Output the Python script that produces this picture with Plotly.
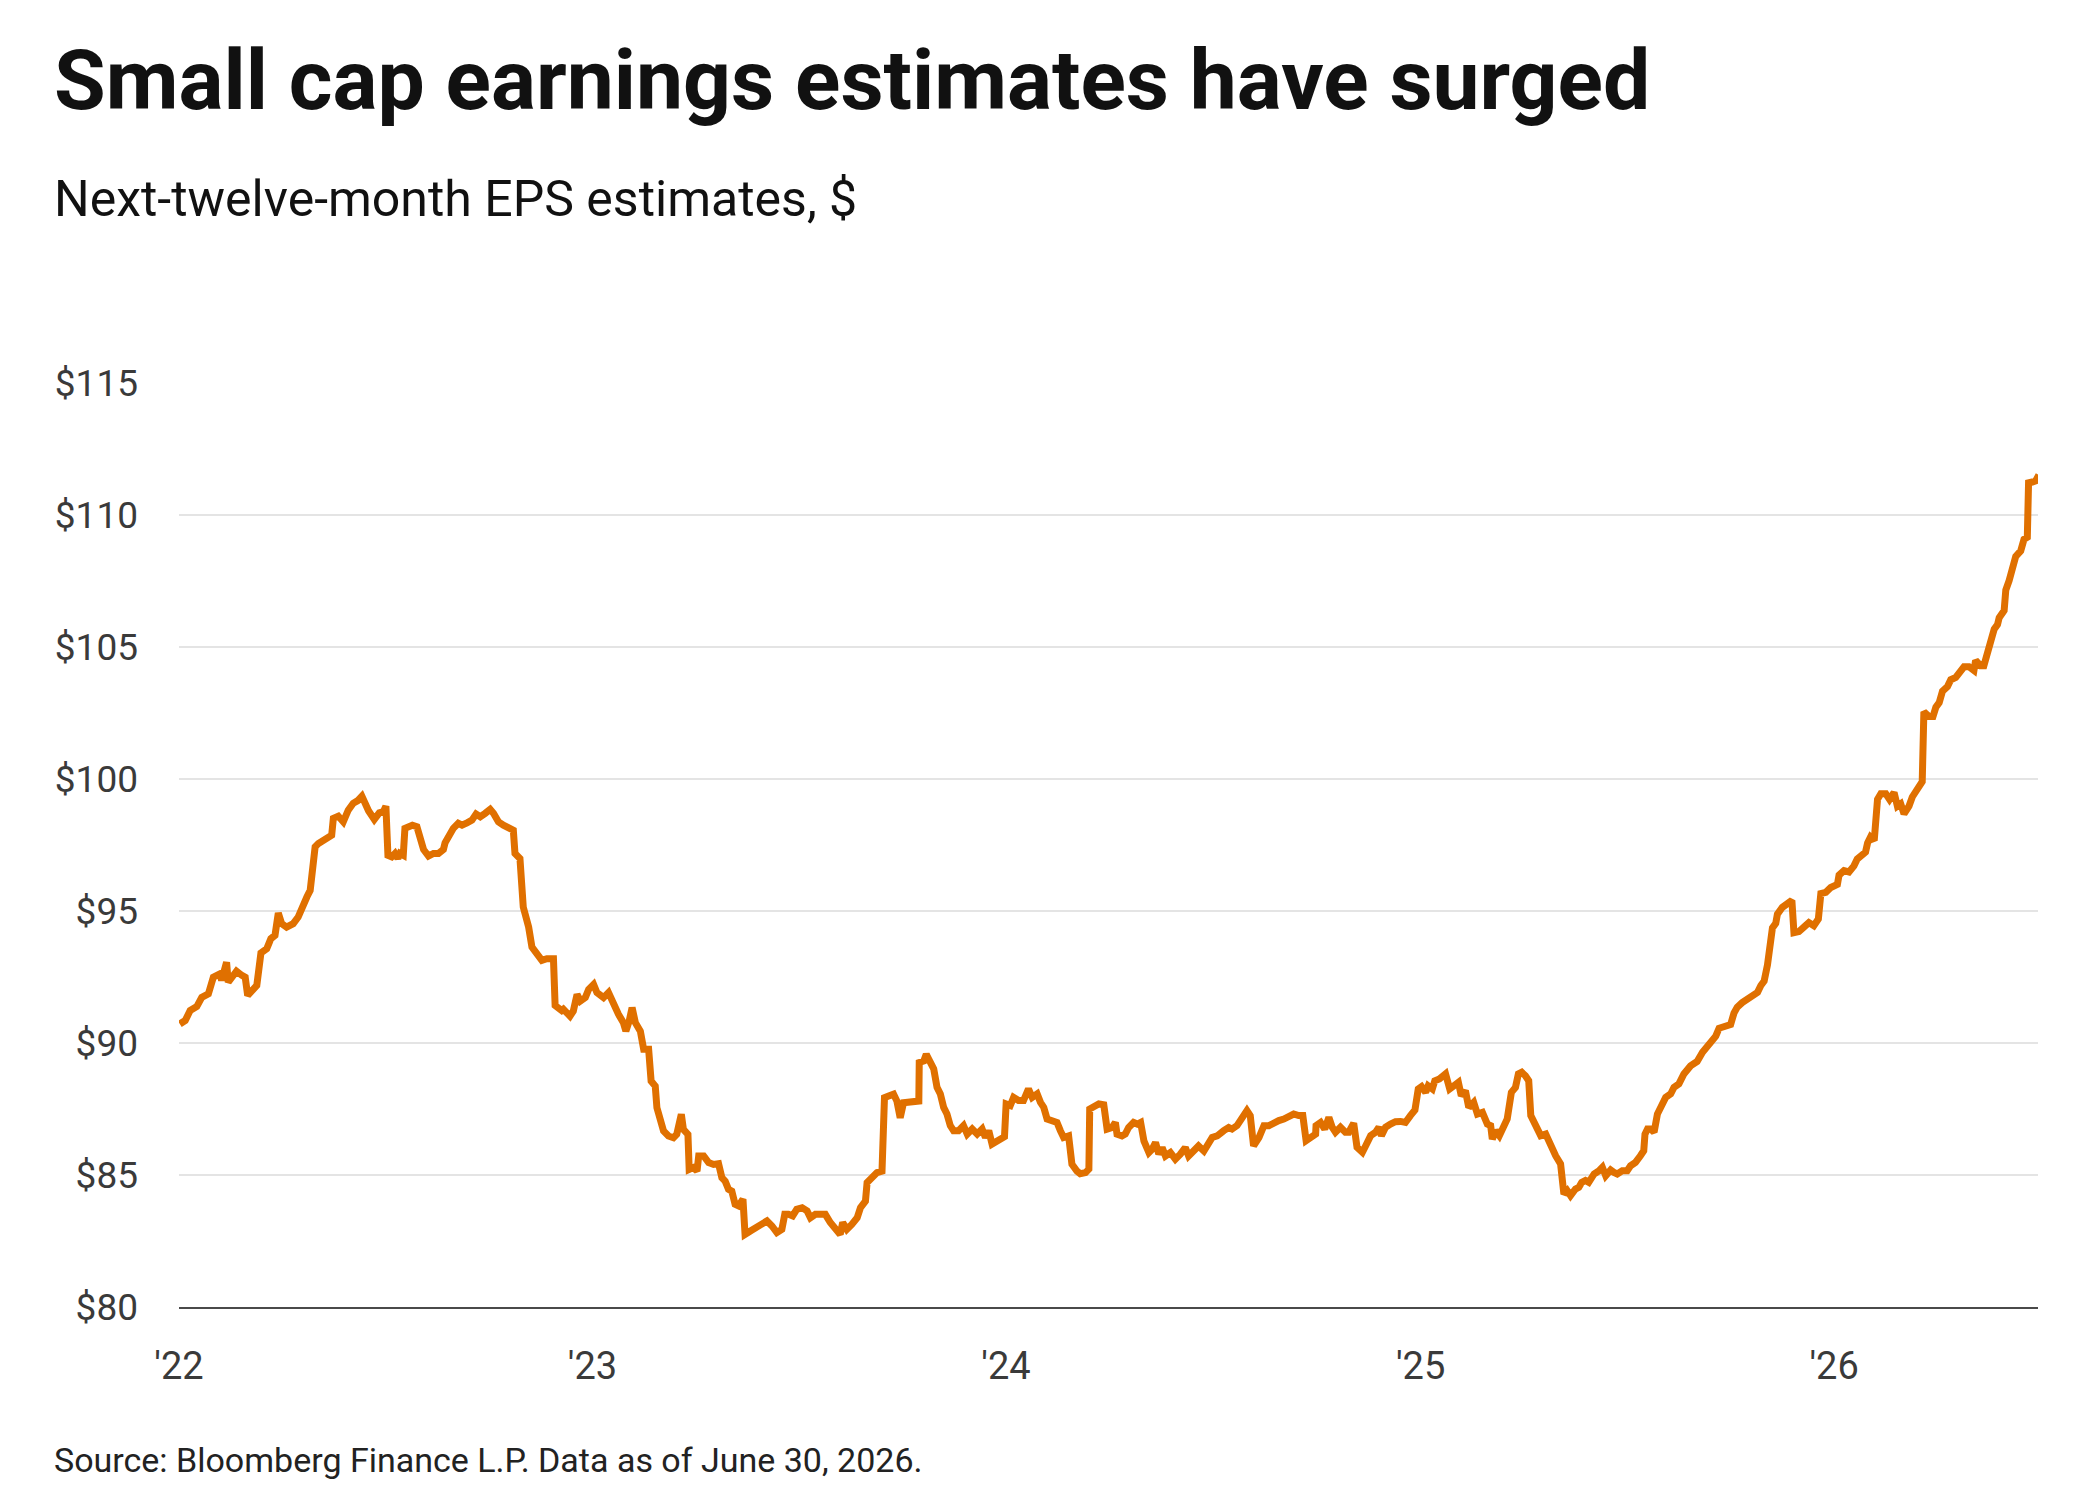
import numpy as np
import pandas as pd
import plotly.graph_objects as go

# ---- data (decimal years, EPS $) ----
yrs_a = [2022.002, 2022.015, 2022.027, 2022.043, 2022.055, 2022.071, 2022.083, 2022.099, 2022.103, 2022.115,
         2022.119, 2022.131, 2022.139, 2022.152, 2022.160, 2022.166, 2022.180, 2022.188, 2022.198, 2022.212,
         2022.222, 2022.232, 2022.240, 2022.248, 2022.260, 2022.276, 2022.288, 2022.297, 2022.309, 2022.317,
         2022.321, 2022.329, 2022.337, 2022.349, 2022.361, 2022.369, 2022.373, 2022.385, 2022.397, 2022.409,
         2022.421, 2022.432, 2022.442, 2022.450, 2022.458, 2022.472, 2022.484, 2022.494, 2022.500, 2022.505,
         2022.514, 2022.522, 2022.529, 2022.534, 2022.542, 2022.546, 2022.554, 2022.564, 2022.575, 2022.583,
         2022.591, 2022.603, 2022.615, 2022.627, 2022.639, 2022.643, 2022.655, 2022.663, 2022.675, 2022.684,
         2022.696, 2022.708, 2022.718, 2022.728, 2022.740, 2022.752, 2022.760, 2022.772, 2022.784, 2022.796,
         2022.808, 2022.812, 2022.824, 2022.832, 2022.845, 2022.853, 2022.865, 2022.877, 2022.889, 2022.905,
         2022.909, 2022.925]
eps_a = [90.72, 90.85, 91.23, 91.38, 91.73, 91.86, 92.49, 92.62, 92.37, 93.06,
         92.30, 92.62, 92.72, 92.56, 92.49, 91.80, 92.05, 92.18, 93.41, 93.57,
         93.95, 94.08, 94.92, 94.52, 94.39, 94.52, 94.77, 95.15, 95.53, 95.78,
         96.35, 97.43, 97.56, 97.68, 97.81, 97.87, 98.51, 98.59, 98.38, 98.82,
         99.08, 99.18, 99.35, 99.01, 98.80, 98.47, 98.72, 98.76, 98.97, 97.11,
         97.05, 97.18, 96.99, 97.18, 97.11, 98.13, 98.19, 98.25, 98.19, 97.62,
         97.33, 97.08, 97.18, 97.18, 97.33, 97.58, 98.00, 98.13, 98.32, 98.25,
         98.34, 98.44, 98.67, 98.57, 98.70, 98.85, 98.70, 98.38, 98.25, 98.13,
         98.06, 97.18, 96.99, 95.15, 94.39, 93.63, 93.32, 93.13, 93.19, 93.19,
         91.42, 91.23]

yrs_b = [2022.929, 2022.945, 2022.953, 2022.962, 2022.970, 2022.982, 2022.990, 2023.002, 2023.010, 2023.026,
         2023.038, 2023.050, 2023.062, 2023.074, 2023.080, 2023.088, 2023.095, 2023.103, 2023.115, 2023.123,
         2023.135, 2023.141, 2023.151, 2023.155, 2023.163, 2023.171, 2023.183, 2023.195, 2023.203, 2023.214,
         2023.219, 2023.230, 2023.233, 2023.243, 2023.252, 2023.256, 2023.268, 2023.280, 2023.292, 2023.304,
         2023.312, 2023.320, 2023.328, 2023.336, 2023.344, 2023.352, 2023.363, 2023.368, 2023.381, 2023.393,
         2023.405, 2023.421, 2023.433, 2023.445, 2023.457, 2023.464, 2023.473, 2023.483, 2023.493, 2023.506,
         2023.518, 2023.526, 2023.538, 2023.550, 2023.562, 2023.574, 2023.586, 2023.598, 2023.604, 2023.614,
         2023.626, 2023.639, 2023.647, 2023.659, 2023.663, 2023.675, 2023.687, 2023.699, 2023.705, 2023.715,
         2023.727, 2023.735, 2023.743, 2023.751, 2023.763, 2023.775, 2023.788, 2023.789, 2023.800, 2023.806]
eps_b = [91.28, 91.02, 91.21, 91.84, 91.59, 91.72, 92.03, 92.22, 91.91, 91.72,
         91.91, 91.46, 91.09, 90.77, 90.45, 90.83, 91.34, 90.77, 90.45, 89.76,
         89.76, 88.56, 88.37, 87.55, 87.11, 86.67, 86.48, 86.41, 86.54, 87.30,
         86.73, 86.54, 85.21, 85.28, 85.15, 85.72, 85.72, 85.47, 85.40, 85.43,
         84.90, 84.77, 84.46, 84.39, 83.89, 83.83, 84.08, 82.75, 82.88, 83.00,
         83.07, 83.26, 83.07, 82.82, 82.94, 83.51, 83.51, 83.45, 83.70, 83.76,
         83.64, 83.38, 83.51, 83.51, 83.51, 83.20, 83.00, 82.75, 83.20, 82.94,
         83.13, 83.38, 83.76, 84.01, 84.71, 84.90, 85.09, 85.15, 87.93, 87.99,
         88.06, 87.80, 87.17, 87.74, 87.74, 87.80, 87.80, 89.26, 89.32, 89.57]

yrs_c = [2023.816, 2023.824, 2023.832, 2023.840, 2023.848, 2023.856, 2023.864, 2023.872, 2023.884, 2023.896,
         2023.905, 2023.917, 2023.929, 2023.941, 2023.949, 2023.957, 2023.965, 2023.981, 2023.995, 2023.999,
         2024.009, 2024.017, 2024.029, 2024.041, 2024.053, 2024.062, 2024.074, 2024.082, 2024.090, 2024.098,
         2024.110, 2024.122, 2024.130, 2024.138, 2024.150, 2024.158, 2024.170, 2024.178, 2024.191, 2024.199,
         2024.201, 2024.211, 2024.223, 2024.235, 2024.243, 2024.255, 2024.263, 2024.267, 2024.279, 2024.287,
         2024.295, 2024.307, 2024.316, 2024.324, 2024.332, 2024.344, 2024.352, 2024.360, 2024.368, 2024.376,
         2024.384, 2024.396, 2024.408, 2024.420, 2024.432, 2024.440, 2024.452, 2024.464, 2024.477, 2024.489,
         2024.497, 2024.509, 2024.517, 2024.525, 2024.537, 2024.545, 2024.557, 2024.565, 2024.573, 2024.581,
         2024.589, 2024.597, 2024.610, 2024.622, 2024.634, 2024.646, 2024.658, 2024.670, 2024.682, 2024.694,
         2024.706, 2024.716]
eps_c = [89.28, 89.02, 88.32, 88.07, 87.56, 87.31, 86.87, 86.68, 86.68, 86.87,
         86.55, 86.74, 86.55, 86.74, 86.42, 86.68, 86.17, 86.29, 86.45, 87.69,
         87.63, 87.94, 87.82, 87.82, 88.26, 87.94, 88.07, 87.75, 87.56, 87.12,
         87.06, 86.99, 86.68, 86.42, 86.48, 85.41, 85.15, 85.05, 85.09, 85.22,
         87.50, 87.59, 87.69, 87.66, 86.74, 86.80, 86.99, 86.55, 86.48, 86.55,
         86.80, 86.99, 86.93, 86.99, 86.29, 85.85, 85.98, 86.23, 85.79, 86.04,
         85.72, 85.85, 85.60, 85.79, 86.04, 85.72, 85.91, 86.10, 85.91, 86.17,
         86.42, 86.48, 86.61, 86.68, 86.80, 86.74, 86.87, 87.06, 87.25, 87.44,
         87.25, 86.10, 86.42, 86.87, 86.87, 86.99, 87.06, 87.12, 87.25, 87.31,
         87.25, 87.25]

yrs_d = [2024.724, 2024.735, 2024.747, 2024.748, 2024.759, 2024.769, 2024.779, 2024.787, 2024.795, 2024.807,
         2024.819, 2024.827, 2024.839, 2024.847, 2024.860, 2024.868, 2024.880, 2024.892, 2024.900, 2024.906,
         2024.916, 2024.928, 2024.940, 2024.952, 2024.964, 2024.976, 2024.987, 2024.995, 2025.003, 2025.013,
         2025.019, 2025.029, 2025.035, 2025.046, 2025.061, 2025.071, 2025.081, 2025.092, 2025.099, 2025.109,
         2025.117, 2025.129, 2025.138, 2025.150, 2025.162, 2025.170, 2025.174, 2025.182, 2025.191, 2025.198,
         2025.210, 2025.220, 2025.230, 2025.237, 2025.245, 2025.254, 2025.262, 2025.267, 2025.279, 2025.291,
         2025.303, 2025.315, 2025.327, 2025.339, 2025.347, 2025.355, 2025.363, 2025.375, 2025.383, 2025.390,
         2025.399, 2025.407, 2025.420, 2025.432, 2025.440, 2025.448, 2025.460, 2025.468, 2025.476, 2025.488,
         2025.500, 2025.508, 2025.520, 2025.532, 2025.540, 2025.543, 2025.549, 2025.557, 2025.565, 2025.573,
         2025.585, 2025.593, 2025.605, 2025.613, 2025.625, 2025.637]
eps_d = [86.30, 86.43, 86.55, 86.87, 86.99, 86.74, 87.18, 86.81, 86.62, 86.81,
         86.62, 86.62, 86.96, 86.05, 85.86, 86.11, 86.49, 86.62, 86.81, 86.49,
         86.81, 86.93, 87.02, 87.03, 86.99, 87.25, 87.46, 88.26, 88.35, 88.13,
         88.38, 88.26, 88.57, 88.64, 88.83, 88.26, 88.38, 88.51, 88.00, 88.19,
         87.56, 87.75, 87.31, 87.37, 86.93, 86.87, 86.36, 86.68, 86.49, 86.68,
         87.12, 88.13, 88.32, 88.83, 88.89, 88.76, 88.57, 87.25, 86.81, 86.49,
         86.55, 86.11, 85.73, 85.42, 84.28, 84.41, 84.22, 84.47, 84.53, 84.72,
         84.79, 84.72, 85.04, 85.16, 85.29, 84.97, 85.19, 85.10, 85.04, 85.16,
         85.16, 85.35, 85.48, 85.73, 85.92, 86.55, 86.74, 86.74, 86.62, 87.31,
         87.69, 87.94, 88.07, 88.32, 88.45, 88.83]

yrs_e = [2025.653, 2025.669, 2025.682, 2025.702, 2025.714, 2025.722, 2025.738, 2025.750, 2025.758, 2025.766,
         2025.778, 2025.794, 2025.802, 2025.815, 2025.823, 2025.831, 2025.839, 2025.843, 2025.851, 2025.859,
         2025.863, 2025.875, 2025.887, 2025.898, 2025.903, 2025.915, 2025.927, 2025.939, 2025.951, 2025.962,
         2025.968, 2025.980, 2025.992, 2026.008, 2026.012, 2026.024, 2026.036, 2026.048, 2026.056, 2026.068,
         2026.076, 2026.081, 2026.088, 2026.097, 2026.105, 2026.113, 2026.125, 2026.134, 2026.145, 2026.153,
         2026.161, 2026.169, 2026.181, 2026.189, 2026.201, 2026.213, 2026.217, 2026.229, 2026.239, 2026.246,
         2026.254, 2026.262, 2026.274, 2026.282, 2026.294, 2026.306, 2026.314, 2026.326, 2026.338, 2026.342,
         2026.354, 2026.362, 2026.371, 2026.379, 2026.387, 2026.395, 2026.399, 2026.411, 2026.415, 2026.423,
         2026.431, 2026.439, 2026.451, 2026.459, 2026.467, 2026.470, 2026.479, 2026.487, 2026.495]
eps_e = [89.13, 89.30, 89.65, 90.00, 90.26, 90.56, 90.66, 90.70, 91.13, 91.36,
         91.53, 91.71, 91.83, 91.92, 92.18, 92.35, 92.96, 93.48, 94.36, 94.53,
         94.88, 95.14, 95.31, 95.40, 94.18, 94.22, 94.39, 94.56, 94.44, 94.70,
         95.66, 95.71, 95.89, 96.01, 96.36, 96.53, 96.48, 96.71, 96.97, 97.14,
         97.23, 97.58, 97.80, 97.67, 99.23, 99.44, 99.44, 99.23, 99.49, 98.97,
         99.06, 98.68, 98.97, 99.32, 99.67, 99.90, 102.54, 102.37, 102.37, 102.72,
         102.89, 103.33, 103.50, 103.76, 103.85, 104.11, 104.25, 104.25, 104.11, 104.49,
         104.29, 104.29, 104.81, 105.42, 105.68, 105.85, 106.11, 106.38, 107.16, 107.51,
         108.12, 108.43, 108.64, 109.08, 109.16, 111.22, 111.25, 111.29, 111.52]

y_ticks = [80, 85, 90, 95, 100, 105, 110, 115]
y_tick_text = ["$80", "$85", "$90", "$95", "$100", "$105", "$110", "$115"]
x_tick_dates = ["2022-01-01", "2023-01-01", "2024-01-01", "2025-01-01", "2026-01-01"]
x_tick_text = ["'22", "'23", "'24", "'25", "'26"]

title_text = "Small cap earnings estimates have surged"
subtitle_text = "Next-twelve-month EPS estimates, $"
source_text = "Source: Bloomberg Finance L.P. Data as of June 30, 2026."

# ---- assemble ----
yrs = np.array(yrs_a + yrs_b + yrs_c + yrs_d + yrs_e)
eps = np.array(eps_a + eps_b + eps_c + eps_d + eps_e)
assert len(yrs) == len(eps)
dates = pd.Timestamp("2022-01-01") + pd.to_timedelta((yrs - 2022.0) * 365.25, unit="D")

W, H = 2084, 1504
PL, PR, PT, PB = 179, 2038, 383, 1307  # plot area in pixels
pw, ph = PR - PL, PB - PT

def px(x):
    return (x - PL) / pw

def py(y):
    return (PB - y) / ph

FONT = "Roboto"
ORANGE = "#E07000"

fig = go.Figure()
fig.add_trace(go.Scatter(
    x=dates, y=eps, mode="lines",
    line=dict(color=ORANGE, width=7, shape="linear"),
    hoverinfo="skip", showlegend=False,
))

fig.update_layout(
    width=W, height=H,
    margin=dict(l=PL, r=W - PR, t=PT, b=H - PB, pad=0),
    paper_bgcolor="white", plot_bgcolor="white",
    font=dict(family=FONT, color="#3d3d3d"),
    xaxis=dict(
        type="date",
        range=["2022-01-01", "2026-06-30"],
        tickmode="array", tickvals=x_tick_dates, ticktext=x_tick_text,
        showgrid=False, zeroline=False,
        showline=True, linecolor="#4a4a4a", linewidth=1.5,
        ticks="", tickfont=dict(family=FONT, size=38, color="#3a3a3a"),
        ticklabelstandoff=25,
        fixedrange=True,
    ),
    yaxis=dict(
        range=[80, 115],
        tickmode="array", tickvals=y_ticks, ticktext=y_tick_text,
        showgrid=True, gridcolor="#e4e4e4", gridwidth=1.5,
        zeroline=False, showline=False,
        ticks="", tickfont=dict(family=FONT, size=37, color="#3a3a3a"),
        ticklabelstandoff=40,
        fixedrange=True,
    ),
)

fig.add_annotation(
    text="<b>" + title_text + "</b>", xref="paper", yref="paper",
    x=px(52), y=py(81), xanchor="left", yanchor="middle", showarrow=False,
    font=dict(family=FONT, size=84, color="#111111"),
)
fig.add_annotation(
    text=subtitle_text, xref="paper", yref="paper",
    x=px(52), y=py(199), xanchor="left", yanchor="middle", showarrow=False,
    font=dict(family=FONT, size=50, color="#111111"),
)
fig.add_annotation(
    text=source_text, xref="paper", yref="paper",
    x=px(52), y=py(1460), xanchor="left", yanchor="middle", showarrow=False,
    font=dict(family=FONT, size=34, color="#222222"),
)

fig.write_html("out.html")
